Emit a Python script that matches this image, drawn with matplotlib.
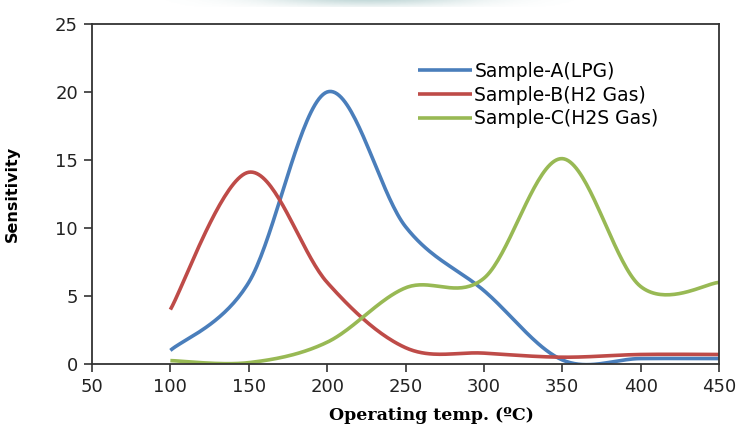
import numpy as np
import matplotlib
matplotlib.use("Agg")
import matplotlib.pyplot as plt

# Datos (sensibilidad vs temperatura de operacion)
temps = [100, 150, 200, 250, 300, 350, 400, 450]
sample_a = [1.0, 6.0, 20.0, 10.1, 5.4, 0.3, 0.4, 0.4]     # LPG
sample_b = [4.0, 14.1, 6.0, 1.2, 0.8, 0.5, 0.7, 0.7]      # H2
sample_c = [0.25, 0.1, 1.6, 5.6, 6.3, 15.1, 5.7, 6.0]     # H2S

labels = ["Sample-A(LPG)", "Sample-B(H2 Gas)", "Sample-C(H2S Gas)"]
colors = ["#4a7ebb", "#be4b48", "#98b954"]

x_ticks = [50, 100, 150, 200, 250, 300, 350, 400, 450]
y_ticks = [0, 5, 10, 15, 20, 25]


def smooth(x, y, n=40):
    """Curva suavizada tipo Excel (Bezier cubica, tension 1/6)."""
    x = np.asarray(x, float)
    y = np.asarray(y, float)
    px = np.concatenate([[x[0]], x, [x[-1]]])
    py = np.concatenate([[y[0]], y, [y[-1]]])
    t = np.linspace(0, 1, n)[:, None]
    xs, ys = [], []
    for i in range(len(x) - 1):
        p0 = np.array([px[i + 1], py[i + 1]])
        p3 = np.array([px[i + 2], py[i + 2]])
        p1 = p0 + (p3 - np.array([px[i], py[i]])) / 6.0
        p2 = p3 - (np.array([px[i + 3], py[i + 3]]) - p0) / 6.0
        b = ((1 - t) ** 3) * p0 + 3 * ((1 - t) ** 2) * t * p1 \
            + 3 * (1 - t) * t ** 2 * p2 + t ** 3 * p3
        xs.append(b[:, 0])
        ys.append(b[:, 1])
    return np.concatenate(xs), np.concatenate(ys)


fig = plt.figure(figsize=(7.38, 4.32), dpi=100)
ax = fig.add_axes([92 / 738, 1 - 364 / 432, 627 / 738, 340 / 432])

# sombra gris difusa en el borde superior (artefacto de la imagen original)
shade = fig.add_axes([160 / 738, 1 - 7 / 432, 420 / 738, 7 / 432])
gx = np.exp(-((np.linspace(-1, 1, 300)) / 0.5) ** 2)
gy = np.linspace(1, 0.3, 10)
g = gy[:, None] * gx[None, :]
shade.imshow(g, aspect="auto", cmap="bone_r", vmin=0, vmax=6, extent=[0, 1, 0, 1])
shade.axis("off")

for ys, lab, col in zip([sample_a, sample_b, sample_c], labels, colors):
    sx, sy = smooth(temps, ys)
    ax.plot(sx, sy, color=col, lw=2.6, label=lab, solid_capstyle="butt")

ax.set_xlim(50, 450)
ax.set_ylim(0, 25)
ax.set_xticks(x_ticks)
ax.set_yticks(y_ticks)
ax.tick_params(axis="both", direction="out", length=6, width=1.2, color="#333333",
               labelsize=13, pad=4)
for lbl in ax.get_xticklabels() + ax.get_yticklabels():
    lbl.set_color("#222222")
for sp in ax.spines.values():
    sp.set_color("#333333")
    sp.set_linewidth(1.3)

ax.set_ylabel("Sensitivity", fontsize=11.5, fontweight="bold")
ax.yaxis.set_label_coords(-(92 - 20) / 627, 0.5)
ax.set_xlabel("Operating temp. (\u00baC)", fontsize=12.5, fontweight="bold",
              family="DejaVu Serif")
ax.xaxis.set_label_coords((431 - 92) / 627, -0.125)

ax.legend(loc="upper left", bbox_to_anchor=((418 - 92) / 627, 1 - (62 - 24) / 340),
          frameon=False, fontsize=13.5, handlelength=2.9, handletextpad=0.1,
          labelspacing=0.25, borderpad=0, borderaxespad=0)

fig.savefig("out.png", dpi=100)
